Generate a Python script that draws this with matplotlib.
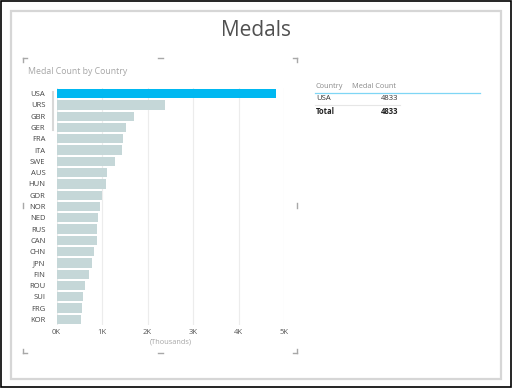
import matplotlib.pyplot as plt
from matplotlib.patches import Rectangle
from matplotlib.lines import Line2D

plt.rcParams['font.family'] = ['Open Sans', 'DejaVu Sans']

countries = ['USA', 'URS', 'GBR', 'GER', 'FRA', 'ITA', 'SWE', 'AUS', 'HUN', 'GDR',
             'NOR', 'NED', 'RUS', 'CAN', 'CHN', 'JPN', 'FIN', 'ROU', 'SUI', 'FRG', 'KOR']
medals = [4833, 2380, 1710, 1520, 1470, 1430, 1280, 1120, 1080, 990,
          950, 920, 900, 900, 830, 790, 720, 630, 590, 570, 540]
xticks = [0, 1000, 2000, 3000, 4000, 5000]
xticklabels = ['0K', '1K', '2K', '3K', '4K', '5K']
table_rows = [('USA', '4833')]
table_total = ('Total', '4833')

W, H = 512, 388
fig = plt.figure(figsize=(W / 100, H / 100), dpi=100)


def fx(px):
    return px / W


def fy(py):
    return 1 - py / H


def hline(x0, x1, y, color, lw=0.8):
    fig.add_artist(Line2D([fx(x0), fx(x1)], [fy(y), fy(y)], color=color, lw=lw,
                          transform=fig.transFigure))


def vline(x, y0, y1, color, lw=0.8):
    fig.add_artist(Line2D([fx(x), fx(x)], [fy(y0), fy(y1)], color=color, lw=lw,
                          transform=fig.transFigure))


# outer frame and panel
fig.add_artist(Rectangle((0.002, 0.002), 0.996, 0.996, fill=False, ec='black', lw=1.2,
                         transform=fig.transFigure))
fig.add_artist(Rectangle((fx(11), fy(379)), fx(490), 368 / H, fill=False, ec='#d6d6d6',
                         lw=1.6, transform=fig.transFigure))

fig.text(fx(256), fy(30), 'Medals', ha='center', va='center', fontsize=15, color='#505050')
fig.text(fx(28), fy(71), 'Medal Count by Country', ha='left', va='center', fontsize=6.3,
         color='#a6a6a6')

# visual frame corner marks
mc = '#a8a8a8'
for (x, y, dx, dy) in [(22.5, 58, 4, 4), (297, 58, -4, 4), (22.5, 353, 4, -4), (297, 353, -4, -4)]:
    hline(x, x + dx, y, mc, lw=1)
    vline(x, y, y + dy, mc, lw=1)
hline(158, 163, 58, mc, lw=1)
hline(158, 163, 353, mc, lw=1)
vline(22.5, 203, 208, mc, lw=1)
vline(297, 203, 208, mc, lw=1)

# bar chart
ax = fig.add_axes([fx(56.5), fy(325), fx(284) - fx(56.5), (325 - 88) / H])
colors = ['#00b8f1'] + ['#c5d7d8'] * (len(countries) - 1)
ax.barh(range(len(countries)), medals, height=0.82, color=colors, zorder=3)
ax.set_ylim(len(countries) - 0.5, -0.5)
ax.set_xlim(0, 5000)
ax.set_xticks(xticks)
ax.set_xticklabels(xticklabels, fontsize=5.5, color='#555555')
ax.set_yticks(range(len(countries)))
ax.set_yticklabels(countries, fontsize=5.5, color='#444444')
ax.tick_params(length=0)
ax.tick_params(axis='x', pad=3)
ax.tick_params(axis='y', pad=8)
ax.grid(axis='x', color='#ececec', lw=0.8, zorder=0)
for s in ax.spines.values():
    s.set_visible(False)
ax.set_xlabel('(Thousands)', fontsize=5.3, color='#a6a6a6', labelpad=2)

# scroll bar
vline(53, 92, 130, '#d8d8d8', lw=1.5)

# table
fig.text(fx(316), fy(87), 'Country', fontsize=5.3, color='#8a8a8a', va='center')
fig.text(fx(352), fy(87), 'Medal Count', fontsize=5.3, color='#8a8a8a', va='center')
hline(315, 480, 92.5, '#7fd6f5', lw=0.9)
y = 99
for name, val in table_rows:
    fig.text(fx(316), fy(y), name, fontsize=5.5, color='#333333', va='center')
    fig.text(fx(398), fy(y), val, fontsize=5.5, color='#333333', va='center', ha='right')
    y += 6
    hline(315, 400, y, '#e6e6e6', lw=0.8)
    y += 7
fig.text(fx(316), fy(y), table_total[0], fontsize=5.5, color='#222222', va='center',
         weight='bold')
fig.text(fx(398), fy(y), table_total[1], fontsize=5.5, color='#222222', va='center',
         ha='right', weight='bold')

fig.savefig('out.png', dpi=100)
